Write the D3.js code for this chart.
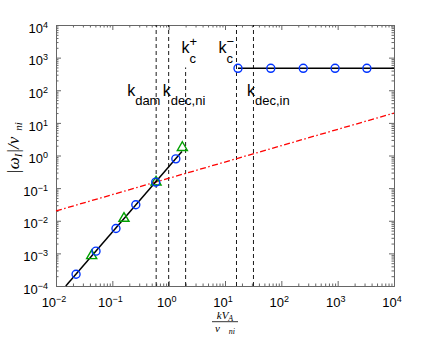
<!DOCTYPE html>
<meta charset="utf-8">
<style>
    body { margin: 0; background: #fff; }
    .axis path, .axis line { stroke: #666; }
    .axis text { font: 13px "Liberation Sans", Arial, sans-serif; fill: #000; }
    .lbl { font-family: "Liberation Sans", Arial, sans-serif; fill: #000; }
    .math { font-family: "Liberation Serif", "Times New Roman", serif; font-style: italic; fill: #000; }
</style>
<body>
<script src="https://cdnjs.cloudflare.com/ajax/libs/d3/7.8.5/d3.min.js"></script>
<script>

    // normalised wave number k V_A / nu_ni
    var kCircle = [0.0227, 0.0513, 0.116, 0.261, 0.59, 1.34];
    var wCircle = [2.3e-4, 1.17e-3, 5.8e-3, 0.031, 0.153, 0.79];

    var kTri = [0.043, 0.161, 0.597, 1.75];
    var wTri = [8.5e-4, 0.0118, 0.153, 1.75];

    var kLine = [0.0149, 1.72];
    var wLine = [1e-4, 1.32];

    var kHigh = [17, 65, 245, 900, 3300];
    var wHigh = [470, 470, 470, 470, 470];
    var kFlat = [17, 1e4];
    var wFlat = [470, 470];

    var kRed = [0.01, 1e4];
    var wRed = [0.02, 20];

    var kMark = [0.6, 1, 2, 16, 32];
    var kMarkTop = [1e4, 1e4, 500, 1e4, 1e4];

    var xTicks = [1e-2, 1e-1, 1e0, 1e1, 1e2, 1e3, 1e4];
    var yTicks = [1e-4, 1e-3, 1e-2, 1e-1, 1e0, 1e1, 1e2, 1e3, 1e4];

    // annotation labels: subscript, superscript, which dashed line, offset
    var labels = [
        {sub: "dam", sup: "", at: 0.6, dx: -29, y: 96},
        {sub: "dec,ni", sup: "", at: 1, dx: -6, y: 96},
        {sub: "c", sup: "+", at: 2, dx: -4, y: 53},
        {sub: "c", sup: "\u2212", at: 16, dx: -18, y: 53},
        {sub: "dec,in", sup: "", at: 32, dx: -6.5, y: 96}
    ];

    var width = 436, height = 339;
    var pLeft = 56, pRight = 394, pTop = 25, pBottom = 286;

    var x = d3.scaleLog().domain([1e-2, 1e4]).range([pLeft, pRight]);
    var y = d3.scaleLog().domain([1e-4, 1e4]).range([pBottom, pTop]);

    var svg = d3.select("body").append("svg")
            .attr("width", width)
            .attr("height", height);

    function minors(domain) {
        var out = [];
        for (var e = Math.round(Math.log10(domain[0])); e < Math.round(Math.log10(domain[1])); e++)
            for (var m = 2; m < 10; m++) out.push(m * Math.pow(10, e));
        return out;
    }

    function sup(sel) {
        sel.each(function(d) {
            var t = d3.select(this).text("10");
            t.append("tspan")
                .attr("dy", "-0.55em")
                .style("font-size", "9px")
                .text(String(Math.round(Math.log10(d))).replace("-", "\u2212"));
        });
    }

    // ticks on all sides
    var g = svg.append("g");
    [[d3.axisBottom, x, "translate(0," + pBottom + ")", xTicks],
     [d3.axisTop, x, "translate(0," + pTop + ")", xTicks],
     [d3.axisLeft, y, "translate(" + pLeft + ",0)", yTicks],
     [d3.axisRight, y, "translate(" + pRight + ",0)", yTicks]
    ].forEach(function(a) {
        g.append("g").attr("class", "axis").attr("transform", a[2])
            .call(a[0](a[1]).tickValues(minors(a[1].domain())).tickSizeInner(-2.5).tickSizeOuter(0).tickFormat(""));
        g.append("g").attr("class", "axis").attr("transform", a[2])
            .call(a[0](a[1]).tickValues(a[3]).tickSizeInner(-5).tickSizeOuter(0).tickFormat(""));
    });

    // labelled axes
    var xAxis = svg.append("g").attr("class", "axis")
            .attr("transform", "translate(0," + pBottom + ")")
            .call(d3.axisBottom(x).tickValues(xTicks).tickSize(0).tickPadding(12));
    xAxis.select(".domain").remove();
    xAxis.selectAll(".tick text").attr("x", -2.5).call(sup);

    var yAxis = svg.append("g").attr("class", "axis")
            .attr("transform", "translate(" + pLeft + ",0)")
            .call(d3.axisLeft(y).tickValues(yTicks).tickSize(0).tickPadding(8));
    yAxis.select(".domain").remove();
    yAxis.selectAll(".tick text").attr("dy", "0.55em").call(sup);

    var plot = svg.append("g");

    // dashed markers
    plot.selectAll("line.mark").data(kMark).enter().append("line")
        .attr("class", "mark")
        .attr("x1", function(d) { return x(d); })
        .attr("x2", function(d) { return x(d); })
        .attr("y1", y(1e-4))
        .attr("y2", function(d, i) { return y(kMarkTop[i]); })
        .attr("stroke", "#000").attr("stroke-width", 0.9)
        .attr("stroke-dasharray", "4,3");

    var line = d3.line().x(function(d) { return x(d[0]); }).y(function(d) { return y(d[1]); });

    plot.append("path")
        .attr("d", line(d3.zip(kRed, wRed)))
        .attr("fill", "none").attr("stroke", "#ff0000").attr("stroke-width", 1.3)
        .attr("stroke-dasharray", "6,2.5,1.5,2.5");

    plot.append("path")
        .attr("d", line(d3.zip(kLine, wLine)))
        .attr("fill", "none").attr("stroke", "#000").attr("stroke-width", 1.5);

    plot.append("path")
        .attr("d", line(d3.zip(kFlat, wFlat)))
        .attr("fill", "none").attr("stroke", "#000").attr("stroke-width", 1.5);

    var tri = d3.symbol().type(d3.symbolTriangle).size(44);
    plot.selectAll("path.tri").data(d3.zip(kTri, wTri)).enter().append("path")
        .attr("class", "tri")
        .attr("d", tri)
        .attr("transform", function(d) { return "translate(" + x(d[0]) + "," + y(d[1]) + ")"; })
        .attr("fill", "none").attr("stroke", "#00a000").attr("stroke-width", 1.4);

    plot.selectAll("circle.lo").data(d3.zip(kCircle, wCircle)).enter().append("circle")
        .attr("class", "lo")
        .attr("cx", function(d) { return x(d[0]); })
        .attr("cy", function(d) { return y(d[1]); })
        .attr("r", 4)
        .attr("fill", "none").attr("stroke", "#0033ff").attr("stroke-width", 1.4);

    plot.selectAll("circle.hi").data(d3.zip(kHigh, wHigh)).enter().append("circle")
        .attr("class", "hi")
        .attr("cx", function(d) { return x(d[0]); })
        .attr("cy", function(d) { return y(d[1]); })
        .attr("r", 4)
        .attr("fill", "none").attr("stroke", "#0033ff").attr("stroke-width", 1.4);

    // annotations
    labels.forEach(function(l) {
        var x0 = x(l.at) + l.dx;
        svg.append("text").attr("class", "lbl").attr("x", x0).attr("y", l.y)
            .style("font-size", "16px").text("k");
        svg.append("text").attr("class", "lbl").attr("x", x0 + 8).attr("y", l.y + (l.sup ? 10 : 9))
            .style("font-size", "13px").text(l.sub);
        if (l.sup)
            svg.append("text").attr("class", "lbl").attr("x", x0 + 8).attr("y", l.y - 7)
                .style("font-size", "13px").text(l.sup);
    });

    // y label
    var yl = svg.append("text").attr("class", "math")
        .attr("transform", "translate(19,148) rotate(-90)")
        .attr("text-anchor", "middle")
        .style("font-size", "17px");
    yl.append("tspan").text("|\u03c9");
    yl.append("tspan").attr("dy", 3).style("font-size", "11px").text("I");
    yl.append("tspan").attr("dy", -3).text("|/\u03bd");
    yl.append("tspan").attr("dy", 3).attr("dx", 6).style("font-size", "11px").text("ni");

    // x label
    var cx = 225;
    var num = svg.append("text").attr("class", "math").attr("x", cx).attr("y", 319)
        .attr("text-anchor", "middle").style("font-size", "11px");
    num.append("tspan").text("kV");
    num.append("tspan").attr("dy", 2).style("font-size", "8px").text("A");
    svg.append("line").attr("x1", cx - 13).attr("x2", cx + 13)
        .attr("y1", 321.7).attr("y2", 321.7).attr("stroke", "#000").attr("stroke-width", 0.8);
    var den = svg.append("text").attr("class", "math").attr("x", cx).attr("y", 332)
        .attr("text-anchor", "middle").style("font-size", "11px");
    den.append("tspan").text("\u03bd");
    den.append("tspan").attr("dy", 2).attr("dx", 9).style("font-size", "8px").text("ni");

</script>
